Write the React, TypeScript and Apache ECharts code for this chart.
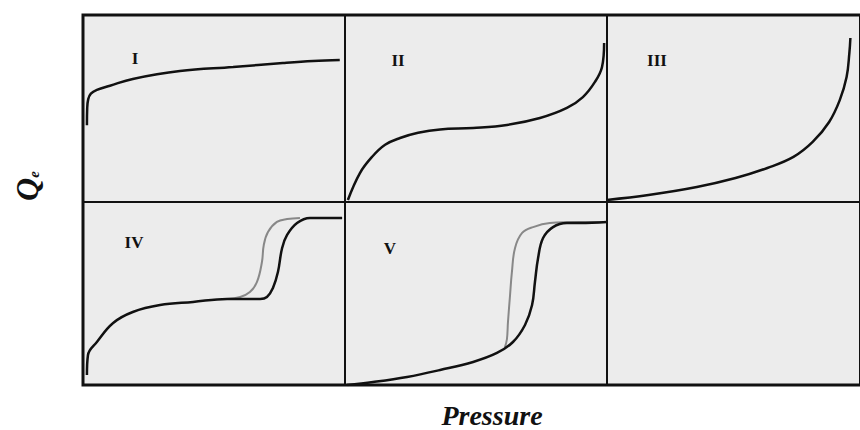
import React, { useEffect, useRef } from "react";
import * as echarts from "echarts";

// Panel labels (isotherm types)
const panelLabels = ["I", "II", "III", "IV", "V"];
const xAxisTitle = "Pressure";
const yAxisTitle = "Q";
const yAxisSub = "e";

// Curves: [relative pressure, relative uptake]
const curveI: [number, number][] = [
  [0.015, 0.41], [0.016, 0.5], [0.02, 0.55], [0.03, 0.58], [0.053, 0.6], [0.103, 0.622],
  [0.19, 0.658], [0.37, 0.7], [0.573, 0.722], [0.763, 0.743], [0.878, 0.754], [0.98, 0.76],
];
const curveII: [number, number][] = [
  [0.011, 0.011], [0.057, 0.155], [0.103, 0.241], [0.153, 0.306], [0.21, 0.342],
  [0.279, 0.37], [0.363, 0.388], [0.489, 0.396], [0.618, 0.412], [0.744, 0.449],
  [0.847, 0.503], [0.908, 0.561], [0.954, 0.642], [0.981, 0.722], [0.989, 0.85],
];
const curveIII: [number, number][] = [
  [0.0, 0.011], [0.164, 0.037], [0.355, 0.08], [0.508, 0.128], [0.634, 0.182],
  [0.737, 0.241], [0.813, 0.321], [0.878, 0.428], [0.92, 0.545], [0.947, 0.668],
  [0.958, 0.797], [0.962, 0.877],
];
const curveIVads: [number, number][] = [
  [0.015, 0.055], [0.019, 0.164], [0.053, 0.235], [0.115, 0.339], [0.19, 0.399],
  [0.294, 0.437], [0.42, 0.454], [0.55, 0.47], [0.676, 0.47], [0.702, 0.481],
  [0.725, 0.53], [0.744, 0.617], [0.76, 0.749], [0.779, 0.82], [0.817, 0.885],
  [0.866, 0.913], [0.989, 0.913],
];
const curveIVdes: [number, number][] = [
  [0.55, 0.47], [0.6, 0.481], [0.637, 0.508], [0.664, 0.563], [0.683, 0.672],
  [0.69, 0.765], [0.706, 0.836], [0.74, 0.891], [0.779, 0.907], [0.828, 0.913],
];
const curveVads: [number, number][] = [
  [0.008, 0.0], [0.107, 0.016], [0.237, 0.044], [0.363, 0.082], [0.489, 0.126],
  [0.58, 0.175], [0.641, 0.235], [0.687, 0.328], [0.714, 0.437], [0.725, 0.563],
  [0.737, 0.694], [0.756, 0.803], [0.794, 0.863], [0.847, 0.885], [0.897, 0.885],
  [1.0, 0.891],
];
const curveVdes: [number, number][] = [
  [0.61, 0.205], [0.618, 0.25], [0.622, 0.344], [0.63, 0.492], [0.637, 0.617],
  [0.649, 0.749], [0.676, 0.831], [0.718, 0.863], [0.782, 0.885], [0.897, 0.891],
  [1.0, 0.891],
];

export default function App() {
  const ref = useRef<HTMLDivElement>(null);

  useEffect(() => {
    if (!ref.current) return;
    const chart = echarts.init(ref.current, null, { renderer: "svg" });

    const cols = [83, 345, 607];
    const rows = [
      { top: 15, height: 187 },
      { top: 202, height: 183 },
    ];
    const grids: any[] = [];
    const xAxes: any[] = [];
    const yAxes: any[] = [];
    rows.forEach((r) => {
      cols.forEach((c) => {
        grids.push({
          left: c,
          top: r.top,
          width: 262,
          height: r.height,
          show: true,
          backgroundColor: "#ececec",
          borderColor: "#111",
          borderWidth: 2,
        });
        const i = grids.length - 1;
        xAxes.push({ type: "value", gridIndex: i, min: 0, max: 1, show: false });
        yAxes.push({ type: "value", gridIndex: i, min: 0, max: 1, show: false });
      });
    });

    const mk = (data: [number, number][], idx: number, color: string, width: number) => ({
      type: "line",
      xAxisIndex: idx,
      yAxisIndex: idx,
      data,
      showSymbol: false,
      smooth: 0.4,
      lineStyle: { color, width },
      z: 5,
    });

    const series = [
      mk(curveI, 0, "#111", 2.5),
      mk(curveII, 1, "#111", 2.5),
      mk(curveIII, 2, "#111", 2.5),
      mk(curveIVdes, 3, "#888", 2),
      mk(curveIVads, 3, "#111", 2.5),
      mk(curveVdes, 4, "#888", 2),
      mk(curveVads, 4, "#111", 2.5),
    ];

    const labelPos = [
      [135, 58],
      [398, 60],
      [657, 60],
      [134, 242],
      [390, 248],
    ];
    const labelFont = {
      fontFamily: "'Liberation Serif', 'DejaVu Serif', serif",
      fontWeight: "bold",
      fontSize: 17,
      fill: "#111",
      align: "center",
      verticalAlign: "middle",
    };

    const graphic: any[] = panelLabels.map((t, i) => ({
      type: "text",
      x: labelPos[i][0],
      y: labelPos[i][1],
      z: 100,
      style: { text: t, ...labelFont },
    }));

    graphic.push({
      type: "rect",
      z: 90,
      shape: { x: 83, y: 15, width: 800, height: 370 },
      style: { fill: "none", stroke: "#111", lineWidth: 3 },
    });

    graphic.push({
      type: "text",
      x: 492,
      y: 415,
      z: 100,
      style: {
        text: xAxisTitle,
        fontFamily: "'Liberation Serif', 'DejaVu Serif', serif",
        fontWeight: "bold",
        fontStyle: "italic",
        fontSize: 28,
        fill: "#111",
        align: "center",
        verticalAlign: "middle",
      },
    });

    graphic.push({
      type: "text",
      x: 27,
      y: 186,
      rotation: Math.PI / 2,
      z: 100,
      style: {
        text: `{q|${yAxisTitle}}{e|${yAxisSub}}`,
        align: "center",
        verticalAlign: "middle",
        fill: "#111",
        rich: {
          q: {
            fontFamily: "'Liberation Serif', 'DejaVu Serif', serif",
            fontWeight: "bold",
            fontStyle: "italic",
            fontSize: 32,
            fill: "#111",
          },
          e: {
            fontFamily: "'Liberation Serif', 'DejaVu Serif', serif",
            fontWeight: "bold",
            fontStyle: "italic",
            fontSize: 15,
            fill: "#111",
            padding: [14, 0, 0, 0],
          },
        },
      },
    });

    chart.setOption({
      animation: false,
      backgroundColor: "#ffffff",
      grid: grids,
      xAxis: xAxes,
      yAxis: yAxes,
      series,
      graphic,
    });

    return () => chart.dispose();
  }, []);

  return (
    <div
      ref={ref}
      style={{ position: "fixed", left: 0, top: 0, width: 860, height: 430 }}
    />
  );
}
